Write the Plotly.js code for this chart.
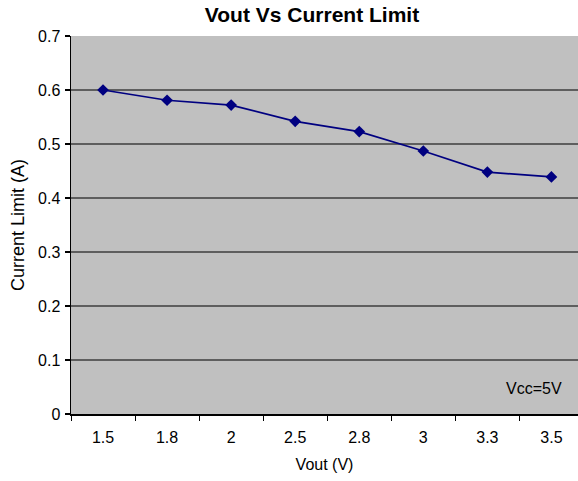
<!DOCTYPE html>
<html>
<head>
<meta charset="utf-8">
<script src="https://cdn.plot.ly/plotly-3.0.1.min.js"></script>
<style>html,body{margin:0;padding:0;background:#fff;}#chart{width:578px;height:481px;}</style>
</head>
<body>
<div id="chart"></div>
<script>
const vout = ["1.5", "1.8", "2", "2.5", "2.8", "3", "3.3", "3.5"];
const currentLimit = [0.600, 0.581, 0.572, 0.542, 0.523, 0.487, 0.448, 0.439];
const yTicks = [0, 0.1, 0.2, 0.3, 0.4, 0.5, 0.6, 0.7];
const yTickText = ["0", "0.1", "0.2", "0.3", "0.4", "0.5", "0.6", "0.7"];

const FONT = "Liberation Sans, Arial, Helvetica, sans-serif";

const trace = {
  x: vout,
  y: currentLimit,
  type: "scatter",
  mode: "lines+markers",
  line: {color: "#000080", width: 1.7},
  marker: {symbol: "diamond", size: 9, color: "#000080"},
  hoverinfo: "x+y",
  showlegend: false
};

const layout = {
  width: 578,
  height: 481,
  paper_bgcolor: "#ffffff",
  plot_bgcolor: "#c0c0c0",
  margin: {l: 71, r: 0, t: 36, b: 67, pad: 0},
  font: {family: FONT, size: 16, color: "#000"},
  title: {
    text: "Vout Vs Current Limit",
    font: {family: FONT, size: 21, color: "#000", weight: "bold"},
    x: 312 / 578, xref: "container", xanchor: "center",
    y: 1 - 15 / 481, yref: "container", yanchor: "middle"
  },
  xaxis: {
    type: "category",
    range: [-0.5, 7.415],
    showgrid: false,
    zeroline: false,
    showline: true,
    linecolor: "#000",
    linewidth: 1.5,
    ticks: "outside",
    tickson: "boundaries",
    ticklen: 5,
    tickwidth: 1,
    tickcolor: "#000",
    ticklabelstandoff: 8,
    tickfont: {family: FONT, size: 16, color: "#000"},
    title: {text: "Vout (V)", font: {family: FONT, size: 16, color: "#000"}, standoff: 14},
    fixedrange: true
  },
  yaxis: {
    range: [0, 0.7],
    tickvals: yTicks,
    ticktext: yTickText,
    showgrid: true,
    gridcolor: "#5e5e5e",
    gridwidth: 1.6,
    zeroline: false,
    showline: true,
    linecolor: "#000",
    linewidth: 1.5,
    ticks: "outside",
    ticklen: 5,
    tickwidth: 1.5,
    tickcolor: "#000",
    ticklabelstandoff: 1,
    tickfont: {family: FONT, size: 16, color: "#000"},
    title: {text: "Current Limit (A)", font: {family: FONT, size: 18, color: "#000"}, standoff: 8},
    fixedrange: true
  },
  annotations: [{
    text: "Vcc=5V",
    xref: "paper", yref: "paper",
    x: (534 - 71) / 507, y: 26 / 378,
    xanchor: "center", yanchor: "middle",
    showarrow: false,
    font: {family: FONT, size: 16, color: "#000"}
  }]
};

Plotly.newPlot("chart", [trace], layout, {displayModeBar: false, staticPlot: true});
</script>
</body>
</html>
